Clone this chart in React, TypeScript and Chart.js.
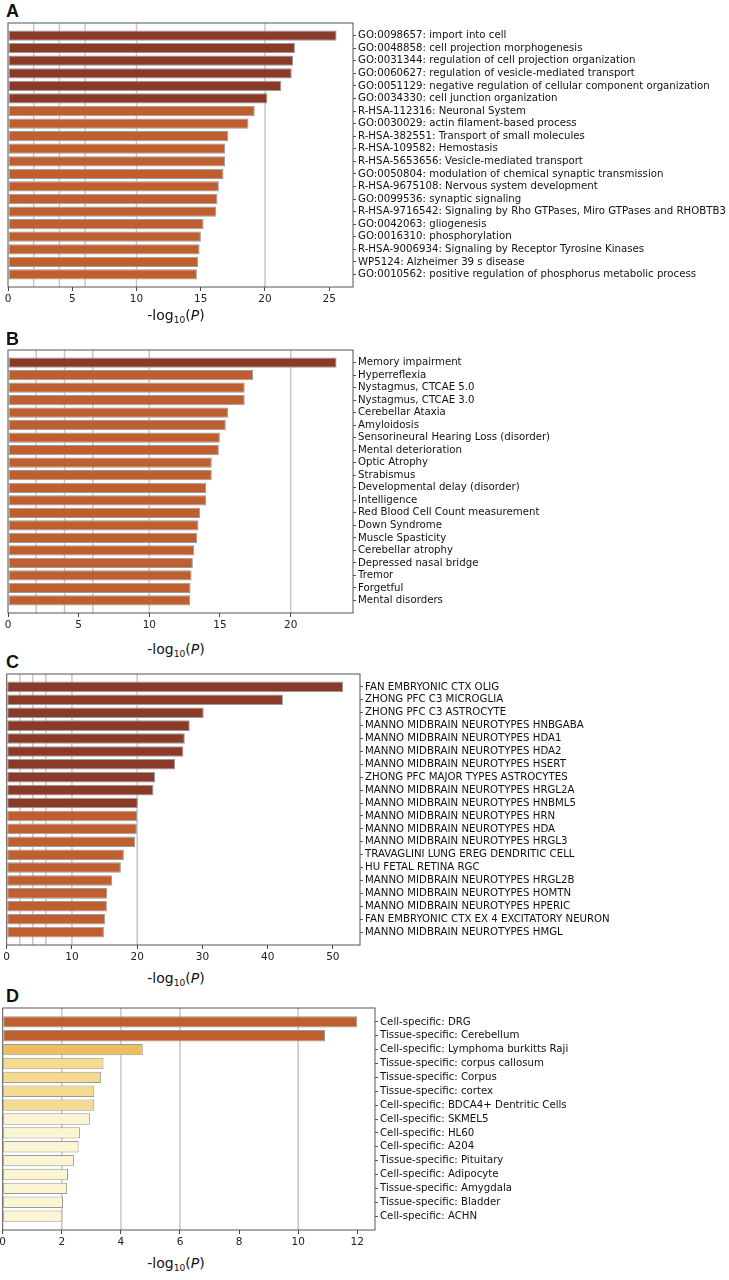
import React, { useEffect, useRef } from 'react';
import { Chart, registerables } from 'chart.js';

Chart.register(...registerables);

// ---------- Data ----------
const A_LABELS = [
  'GO:0098657: import into cell',
  'GO:0048858: cell projection morphogenesis',
  'GO:0031344: regulation of cell projection organization',
  'GO:0060627: regulation of vesicle-mediated transport',
  'GO:0051129: negative regulation of cellular component organization',
  'GO:0034330: cell junction organization',
  'R-HSA-112316: Neuronal System',
  'GO:0030029: actin filament-based process',
  'R-HSA-382551: Transport of small molecules',
  'R-HSA-109582: Hemostasis',
  'R-HSA-5653656: Vesicle-mediated transport',
  'GO:0050804: modulation of chemical synaptic transmission',
  'R-HSA-9675108: Nervous system development',
  'GO:0099536: synaptic signaling',
  'R-HSA-9716542: Signaling by Rho GTPases, Miro GTPases and RHOBTB3',
  'GO:0042063: gliogenesis',
  'GO:0016310: phosphorylation',
  'R-HSA-9006934: Signaling by Receptor Tyrosine Kinases',
  'WP5124: Alzheimer 39 s disease',
  'GO:0010562: positive regulation of phosphorus metabolic process',
];
const A_VALUES = [25.57, 22.33, 22.18, 22.08, 21.27, 20.19, 19.2, 18.71, 17.13, 16.9, 16.9, 16.77, 16.41, 16.3, 16.2, 15.22, 15.01, 14.91, 14.8, 14.7];
const A_TICKS = [0, 5, 10, 15, 20, 25];

const B_LABELS = [
  'Memory impairment',
  'Hyperreflexia',
  'Nystagmus, CTCAE 5.0',
  'Nystagmus, CTCAE 3.0',
  'Cerebellar Ataxia',
  'Amyloidosis',
  'Sensorineural Hearing Loss (disorder)',
  'Mental deterioration',
  'Optic Atrophy',
  'Strabismus',
  'Developmental delay (disorder)',
  'Intelligence',
  'Red Blood Cell Count measurement',
  'Down Syndrome',
  'Muscle Spasticity',
  'Cerebellar atrophy',
  'Depressed nasal bridge',
  'Tremor',
  'Forgetful',
  'Mental disorders',
];
const B_VALUES = [23.25, 17.34, 16.75, 16.75, 15.58, 15.41, 14.99, 14.92, 14.42, 14.42, 14.02, 14.02, 13.6, 13.48, 13.39, 13.18, 13.08, 12.99, 12.92, 12.89];
const B_TICKS = [0, 5, 10, 15, 20];

const C_LABELS = [
  'FAN EMBRYONIC CTX OLIG',
  'ZHONG PFC C3 MICROGLIA',
  'ZHONG PFC C3 ASTROCYTE',
  'MANNO MIDBRAIN NEUROTYPES HNBGABA',
  'MANNO MIDBRAIN NEUROTYPES HDA1',
  'MANNO MIDBRAIN NEUROTYPES HDA2',
  'MANNO MIDBRAIN NEUROTYPES HSERT',
  'ZHONG PFC MAJOR TYPES ASTROCYTES',
  'MANNO MIDBRAIN NEUROTYPES HRGL2A',
  'MANNO MIDBRAIN NEUROTYPES HNBML5',
  'MANNO MIDBRAIN NEUROTYPES HRN',
  'MANNO MIDBRAIN NEUROTYPES HDA',
  'MANNO MIDBRAIN NEUROTYPES HRGL3',
  'TRAVAGLINI LUNG EREG DENDRITIC CELL',
  'HU FETAL RETINA RGC',
  'MANNO MIDBRAIN NEUROTYPES HRGL2B',
  'MANNO MIDBRAIN NEUROTYPES HOMTN',
  'MANNO MIDBRAIN NEUROTYPES HPERIC',
  'FAN EMBRYONIC CTX EX 4 EXCITATORY NEURON',
  'MANNO MIDBRAIN NEUROTYPES HMGL',
];
const C_VALUES = [51.58, 42.35, 30.2, 28.06, 27.3, 27.09, 25.82, 22.76, 22.5, 20.1, 19.98, 19.95, 19.69, 17.96, 17.5, 16.17, 15.41, 15.36, 15.1, 14.9];
const C_TICKS = [0, 10, 20, 30, 40, 50];

const D_LABELS = [
  'Cell-specific: DRG',
  'Tissue-specific: Cerebellum',
  'Cell-specific: Lymphoma burkitts Raji',
  'Tissue-specific: corpus callosum',
  'Tissue-specific: Corpus',
  'Tissue-specific: cortex',
  'Cell-specific: BDCA4+ Dentritic Cells',
  'Cell-specific: SKMEL5',
  'Cell-specific: HL60',
  'Cell-specific: A204',
  'Tissue-specific: Pituitary',
  'Cell-specific: Adipocyte',
  'Tissue-specific: Amygdala',
  'Tissue-specific: Bladder',
  'Cell-specific: ACHN',
];
const D_VALUES = [12.0, 10.91, 4.74, 3.41, 3.33, 3.1, 3.1, 2.96, 2.62, 2.57, 2.41, 2.21, 2.18, 2.04, 2.02];
const D_TICKS = [0, 2, 4, 6, 8, 10, 12];

// reference lines of the significance bins
const GRID_VALUES = [2, 4, 6, 10, 20];

// ---------- Styling ----------
const FONT = "'DejaVu Sans', sans-serif";
const PAD_TOP = 6;
const X_AXIS_H = 24;
const TITLE_CX = 176;

function binColor(v: number): string {
  if (v >= 20) return '#8a3a28';
  if (v >= 10) return '#bf5f30';
  if (v >= 6) return '#d98a3e';
  if (v >= 4) return '#eebd5e';
  if (v >= 3) return '#f5db90';
  return '#fcf5d3';
}

const gridPlugin = {
  id: 'binGrid',
  beforeDatasetsDraw(chart: any) {
    const { ctx, chartArea, scales } = chart;
    const x = scales.x;
    ctx.save();
    ctx.strokeStyle = '#c6c6c6';
    ctx.lineWidth = 1.5;
    for (const v of GRID_VALUES) {
      if (v >= x.max) continue;
      const px = x.getPixelForValue(v);
      ctx.beginPath();
      ctx.moveTo(px, chartArea.top);
      ctx.lineTo(px, chartArea.bottom);
      ctx.stroke();
    }
    ctx.restore();
  },
};

const boxPlugin = {
  id: 'frameBox',
  afterDatasetsDraw(chart: any) {
    const { ctx, chartArea } = chart;
    ctx.save();
    ctx.strokeStyle = '#555555';
    ctx.lineWidth = 1;
    ctx.strokeRect(chartArea.left, chartArea.top, chartArea.right - chartArea.left, chartArea.bottom - chartArea.top);
    ctx.restore();
  },
};

type Box = { left: number; top: number; right: number; bottom: number };

type PanelProps = {
  letter: string;
  letterTop: number;
  titleTop: number;
  labels: string[];
  values: number[];
  ticks: number[];
  box: Box;
};

function Panel({ letter, letterTop, titleTop, labels, values, ticks, box }: PanelProps) {
  const ref = useRef<HTMLCanvasElement | null>(null);
  const height = Math.round(PAD_TOP + (box.bottom - box.top) + X_AXIS_H);
  const canvasTop = box.top - PAD_TOP;

  useEffect(() => {
    if (!ref.current) return;
    const xMax = Math.max(...values) * 1.05;
    const chart = new Chart(ref.current, {
      type: 'bar',
      data: {
        datasets: [
          {
            data: values.map((v, i) => ({ x: v, y: i })),
            backgroundColor: values.map(binColor),
            borderColor: '#9a9a9a',
            borderWidth: 1,
            borderSkipped: false,
            barPercentage: 0.82,
            categoryPercentage: 1,
          } as any,
        ],
      },
      options: {
        indexAxis: 'y',
        animation: false,
        responsive: false,
        events: [],
        layout: { padding: { top: PAD_TOP, left: box.left, right: 0, bottom: 0 } },
        plugins: {
          legend: { display: false },
          tooltip: { enabled: false },
          title: { display: false },
        },
        scales: {
          x: {
            type: 'linear',
            position: 'bottom',
            min: 0,
            max: xMax,
            offset: false,
            afterBuildTicks: (s: any) => {
              s.ticks = ticks.map((v) => ({ value: v }));
            },
            afterFit: (s: any) => {
              s.height = X_AXIS_H;
              s.paddingLeft = 0;
              s.paddingRight = 0;
            },
            grid: {
              display: true,
              drawOnChartArea: false,
              drawTicks: true,
              tickLength: 4,
              color: '#444444',
              lineWidth: 1,
            },
            border: { display: false },
            ticks: {
              font: { family: FONT, size: 10.5 },
              color: '#222222',
              padding: 2,
              maxRotation: 0,
              autoSkip: false,
            },
          },
          y: {
            type: 'linear',
            position: 'right',
            min: -1,
            max: labels.length,
            reverse: true,
            offset: false,
            afterBuildTicks: (s: any) => {
              s.ticks = labels.map((_, i) => ({ value: i }));
            },
            afterFit: (s: any) => {
              s.width = 729 - box.right;
              s.paddingTop = 0;
              s.paddingBottom = 0;
            },
            grid: {
              display: true,
              offset: false,
              drawOnChartArea: false,
              drawTicks: true,
              tickLength: 3,
              color: '#555555',
            },
            border: { display: false },
            ticks: {
              font: { family: FONT, size: 10.2 },
              color: '#111111',
              padding: 2,
              autoSkip: false,
              callback: (v: any) => labels[v as number] ?? '',
            },
          },
        },
      } as any,
      plugins: [gridPlugin, boxPlugin],
    });
    return () => chart.destroy();
  }, []);

  return (
    <>
      <div
        style={{
          position: 'absolute',
          left: 6,
          top: letterTop,
          fontFamily: "'Liberation Sans', Arial, sans-serif",
          fontWeight: 'bold',
          fontSize: 18,
          lineHeight: '18px',
          color: '#111',
        }}
      >
        {letter}
      </div>
      <canvas
        ref={ref}
        width={729}
        height={height}
        style={{ position: 'absolute', left: 0, top: canvasTop, width: 729, height }}
      />
      <div
        style={{
          position: 'absolute',
          left: TITLE_CX - 100,
          width: 200,
          top: titleTop,
          textAlign: 'center',
          fontFamily: FONT,
          fontSize: 14,
          lineHeight: '16px',
          color: '#111',
          whiteSpace: 'nowrap',
        }}
      >
        -log
        <sub style={{ fontSize: '0.65em', lineHeight: 0, verticalAlign: '-0.35em' }}>10</sub>
        (<i>P</i>)
      </div>
    </>
  );
}

export default function App() {
  return (
    <div
      style={{
        position: 'absolute',
        left: 0,
        top: 0,
        width: 729,
        height: 1280,
        overflow: 'hidden',
        background: '#ffffff',
      }}
    >
      <Panel letter="A" letterTop={2} titleTop={307} labels={A_LABELS} values={A_VALUES} ticks={A_TICKS} box={{ left: 8, top: 22.5, right: 353, bottom: 286 }} />
      <Panel letter="B" letterTop={330} titleTop={641} labels={B_LABELS} values={B_VALUES} ticks={B_TICKS} box={{ left: 8, top: 350, right: 353, bottom: 613 }} />
      <Panel letter="C" letterTop={653} titleTop={970} labels={C_LABELS} values={C_VALUES} ticks={C_TICKS} box={{ left: 6.7, top: 674.3, right: 360, bottom: 945 }} />
      <Panel letter="D" letterTop={987} titleTop={1255} labels={D_LABELS} values={D_VALUES} ticks={D_TICKS} box={{ left: 2.7, top: 1007.7, right: 375, bottom: 1229.3 }} />
    </div>
  );
}
